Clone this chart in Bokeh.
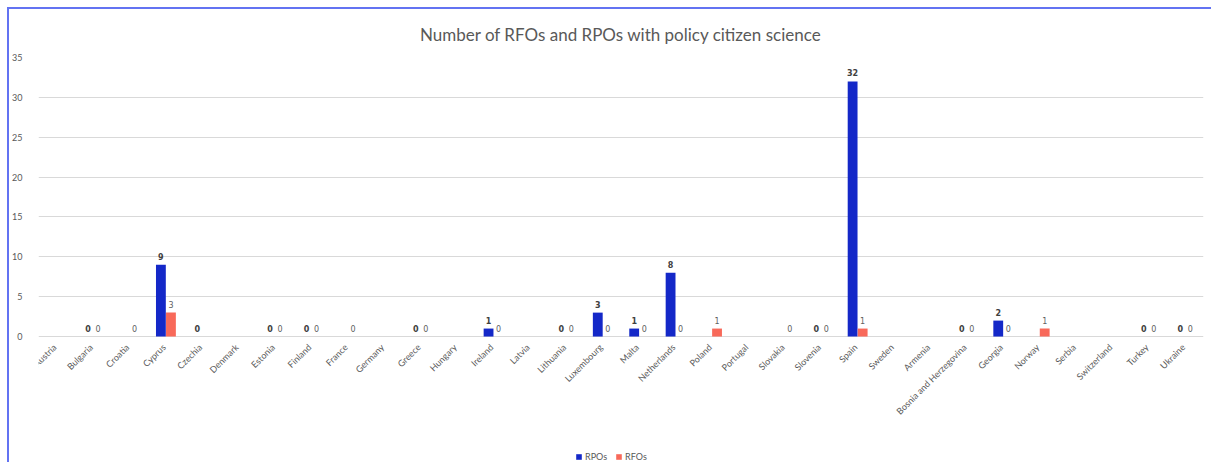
import math
import numpy as np
from bokeh.plotting import figure
from bokeh.models import ColumnDataSource, Range1d, FactorRange, Legend, LegendItem, FixedTicker
from bokeh.transform import dodge
from bokeh.core.properties import value
from bokeh.embed import file_html
from bokeh.resources import INLINE

countries = ["Austria", "Bulgaria", "Croatia", "Cyprus", "Czechia", "Denmark", "Estonia",
             "Finland", "France", "Germany", "Greece", "Hungary", "Ireland", "Latvia",
             "Lithuania", "Luxembourg", "Malta", "Netherlands", "Poland", "Portugal",
             "Slovakia", "Slovenia", "Spain", "Sweden", "Armenia", "Bosnia and Herzegovina",
             "Georgia", "Norway", "Serbia", "Switzerland", "Turkey", "Ukraine"]
N = None
rpos = [N, 0, N, 9, 0, N, 0, 0, N, N, 0, N, 1, N, 0, 3, 1, 8, N, N, N, 0, 32, N, N, 0, 2, N, N, N, 0, 0]
rfos = [N, 0, 0, 3, N, N, 0, 0, 0, N, 0, N, 0, N, 0, 0, 0, 0, 1, N, 0, 0, 1, N, N, 0, 0, 1, N, N, 0, 0]
y_ticks = [0, 5, 10, 15, 20, 25, 30, 35]

BLUE = "#1428c8"
SALMON = "#f8695a"
GRAY = "#595959"
FONT = "Lato"

def src(vals):
    xs = [c for c, v in zip(countries, vals) if v is not None]
    ys = [v for v in vals if v is not None]
    return ColumnDataSource(dict(x=xs, y=ys, t=[str(v) for v in ys]))

s_rpo = src(rpos)
s_rfo = src(rfos)
s_cat = ColumnDataSource(dict(x=countries, y=[0] * len(countries)))

# frame extends below zero to hold the rotated category labels and the legend
p = figure(x_range=FactorRange(*countries, range_padding=0), y_range=Range1d(-15.8, 35),
           frame_width=1165, frame_height=405, output_backend="svg", toolbar_location=None,
           min_border_left=27, min_border_right=8, min_border_top=45, min_border_bottom=0,
           styles={"border-top": "2px solid #6373f2", "border-left": "2px solid #6373f2",
                   "margin-left": "7px", "margin-top": "7px"})

p.title.text = "Number of RFOs and RPOs with policy citizen science"
p.title.align = "center"
p.title.text_font = FONT
p.title.text_font_size = "17px"
p.title.text_font_style = "normal"
p.title.text_color = GRAY
p.title.standoff = 25

off = 0.138
w = 0.27
r1 = p.vbar(x=dodge("x", -off, range=p.x_range), top="y", width=w, source=s_rpo,
            fill_color=BLUE, line_color=None)
r2 = p.vbar(x=dodge("x", off, range=p.x_range), top="y", width=w, source=s_rfo,
            fill_color=SALMON, line_color=None)

p.text(x=dodge("x", -off, range=p.x_range), y="y", text="t", source=s_rpo,
       text_font=value("DejaVu Sans"), text_font_size="8px", text_font_style="bold",
       text_color="#404040", text_align="center", text_baseline="bottom", y_offset=-5)
p.text(x=dodge("x", off, range=p.x_range), y="y", text="t", source=s_rfo,
       text_font=value("DejaVu Sans"), text_font_size="8px",
       text_color="#606060", text_align="center", text_baseline="bottom", y_offset=-5)

# category labels, rotated 45 degrees, ending just below each category
p.text(x="x", y="y", text="x", source=s_cat, angle=math.pi / 4,
       text_font=value(FONT), text_font_size="9px", text_color=GRAY,
       text_align="right", text_baseline="middle", x_offset=-2, y_offset=9)

p.outline_line_color = None
p.xaxis.visible = False
p.xgrid.grid_line_color = None
p.ygrid.grid_line_color = "#d9d9d9"
p.yaxis.ticker = FixedTicker(ticks=y_ticks)
p.ygrid.ticker = FixedTicker(ticks=y_ticks)
p.yaxis.axis_line_color = None
p.yaxis.major_tick_line_color = None
p.yaxis.minor_tick_line_color = None
p.yaxis.major_label_text_font = FONT
p.yaxis.major_label_text_font_size = "9px"
p.yaxis.major_label_text_color = GRAY
p.yaxis.major_label_standoff = 10

legend = Legend(items=[LegendItem(label="RPOs", renderers=[r1]), LegendItem(label="RFOs", renderers=[r2])],
                orientation="horizontal", location=(537, 0), border_line_color=None,
                background_fill_alpha=0,
                label_text_font=FONT, label_text_font_size="9px", label_text_color=GRAY,
                glyph_width=7, glyph_height=7, spacing=8, padding=2, margin=0,
                label_standoff=3, label_height=9)
p.add_layout(legend, "center")

open("out.html", "w").write(file_html(p, INLINE))
